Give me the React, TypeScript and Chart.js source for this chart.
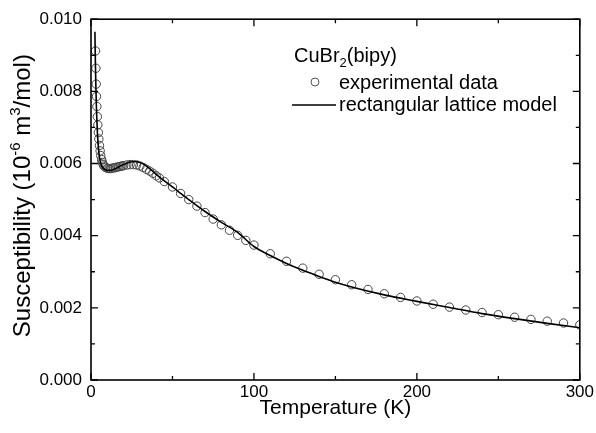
import React, { useEffect, useRef } from "react";
import { Chart, registerables } from "chart.js";

Chart.register(...registerables);

// Experimental data: temperature (K) and susceptibility
const expT = [
  2.8, 3.0, 3.2, 3.4, 3.6, 3.9, 4.2, 4.5, 4.8, 5.2, 5.6, 6.0, 6.5, 7.0, 7.5,
  8, 9, 10, 11, 12, 13, 14, 15, 16, 17, 18, 19, 20, 22, 24, 26, 28, 30, 32, 34,
  36, 38, 40, 42, 45, 50, 55, 60, 65, 70, 75, 80, 85, 90, 95, 100, 110, 120,
  130, 140, 150, 160, 170, 180, 190, 200, 210, 220, 230, 240, 250, 260, 270,
  280, 290, 300,
];
const expChi = [
  0.00912, 0.00864, 0.0082, 0.00786, 0.00758, 0.0073, 0.00707, 0.00686,
  0.00668, 0.0065, 0.00635, 0.00622, 0.00611, 0.00603, 0.00597, 0.00593,
  0.00589, 0.00587, 0.00586, 0.00586, 0.00587, 0.00588, 0.00589, 0.0059,
  0.00591, 0.00592, 0.00593, 0.00594, 0.00596, 0.00597, 0.00597, 0.00596,
  0.00593, 0.00589, 0.00584, 0.00579, 0.00573, 0.00566, 0.0056, 0.0055,
  0.00535, 0.00517, 0.005, 0.00482, 0.00464, 0.00446, 0.0043, 0.00415,
  0.00401, 0.00387, 0.00374, 0.0035, 0.00329, 0.0031, 0.00293, 0.00278,
  0.00264, 0.00251, 0.00239, 0.00229, 0.00219, 0.0021, 0.00202, 0.00194,
  0.00187, 0.00181, 0.00174, 0.00168, 0.00163, 0.00158, 0.00153,
];

// Rectangular lattice model curve
const modelT = [
  2.4, 2.6, 2.8, 3.0, 3.3, 3.6, 4.0, 4.5, 5, 5.5, 6, 7, 8, 10, 12, 14, 16, 18,
  20, 22, 24, 26, 28, 30, 32, 34, 36, 38, 40, 45, 50, 55, 60, 70, 80, 90, 100,
  110, 120, 130, 140, 150, 160, 180, 200, 220, 240, 260, 280, 300,
];
const modelChi = [
  0.00965, 0.00905, 0.00855, 0.00812, 0.0076, 0.0072, 0.0068, 0.00647,
  0.00625, 0.0061, 0.006, 0.0059, 0.00585, 0.00581, 0.00581, 0.00584,
  0.00588, 0.00593, 0.00597, 0.00601, 0.00604, 0.00605, 0.00605, 0.00603,
  0.00599, 0.00593, 0.00586, 0.00578, 0.0057, 0.00552, 0.00535, 0.00517,
  0.005, 0.00467, 0.00437, 0.00409, 0.0037, 0.00345, 0.00323, 0.00304,
  0.00287, 0.00271, 0.00258, 0.00236, 0.00218, 0.00201, 0.00184, 0.0017,
  0.00157, 0.00145,
];

const xMajor = [0, 100, 200, 300];
const xMinor = [50, 150, 250];
const yMajor = [0, 0.002, 0.004, 0.006, 0.008, 0.01];
const yMinor = [0.001, 0.003, 0.005, 0.007, 0.009];

const legendTitle = ["CuBr", "2", "(bipy)"];
const legendExp = "experimental data";
const legendModel = "rectangular lattice model";
const xTitle = "Temperature (K)";
const yTitleParts = [
  { t: "Susceptibility (10", sup: false },
  { t: "-6", sup: true },
  { t: " m", sup: false },
  { t: "3", sup: true },
  { t: "/mol)", sup: false },
];

const FONT = "Liberation Sans, Arial, sans-serif";

const framePlugin = {
  id: "frameTicks",
  afterDraw(chart: any) {
    const { ctx, chartArea } = chart;
    const xs = chart.scales.x;
    const ys = chart.scales.y;
    const { left, right, top, bottom } = chartArea;
    ctx.save();
    ctx.strokeStyle = "#000";
    ctx.lineWidth = 1.6;
    ctx.strokeRect(left, top, right - left, bottom - top);
    ctx.lineWidth = 1.3;
    const tick = (vals: number[], len: number) => {
      vals.forEach((v) => {
        const px = xs.getPixelForValue(v);
        ctx.beginPath();
        ctx.moveTo(px, bottom);
        ctx.lineTo(px, bottom - len);
        ctx.moveTo(px, top);
        ctx.lineTo(px, top + len);
        ctx.stroke();
      });
    };
    const ytick = (vals: number[], len: number) => {
      vals.forEach((v) => {
        const py = ys.getPixelForValue(v);
        ctx.beginPath();
        ctx.moveTo(left, py);
        ctx.lineTo(left + len, py);
        ctx.moveTo(right, py);
        ctx.lineTo(right - len, py);
        ctx.stroke();
      });
    };
    tick(xMajor, 7);
    tick(xMinor, 4);
    ytick(yMajor, 7);
    ytick(yMinor, 4);

    // Y axis title with superscripts
    const mainFont = `24px ${FONT}`;
    const supFont = `15px ${FONT}`;
    let total = 0;
    yTitleParts.forEach((p) => {
      ctx.font = p.sup ? supFont : mainFont;
      total += ctx.measureText(p.t).width;
    });
    ctx.translate(22, (top + bottom) / 2 - 4);
    ctx.rotate(-Math.PI / 2);
    ctx.fillStyle = "#000";
    ctx.textBaseline = "alphabetic";
    let x = -total / 2;
    yTitleParts.forEach((p) => {
      ctx.font = p.sup ? supFont : mainFont;
      ctx.fillText(p.t, x, p.sup ? -2 : 8);
      x += ctx.measureText(p.t).width;
    });
    ctx.restore();

    // Legend
    ctx.save();
    ctx.fillStyle = "#000";
    ctx.textBaseline = "middle";
    ctx.font = `20px ${FONT}`;
    let lx = 294;
    ctx.fillText(legendTitle[0], lx, 56);
    lx += ctx.measureText(legendTitle[0]).width;
    ctx.font = `13px ${FONT}`;
    ctx.fillText(legendTitle[1], lx, 63);
    lx += ctx.measureText(legendTitle[1]).width;
    ctx.font = `20px ${FONT}`;
    ctx.fillText(legendTitle[2], lx, 56);

    ctx.strokeStyle = "#555";
    ctx.lineWidth = 1;
    ctx.beginPath();
    ctx.arc(315, 82, 4, 0, Math.PI * 2);
    ctx.stroke();
    ctx.fillText(legendExp, 339, 83);

    ctx.strokeStyle = "#000";
    ctx.lineWidth = 1.5;
    ctx.beginPath();
    ctx.moveTo(292, 105);
    ctx.lineTo(336, 105);
    ctx.stroke();
    ctx.fillText(legendModel, 339, 105);
    ctx.restore();
  },
};

export default function App() {
  const ref = useRef<HTMLCanvasElement>(null);
  useEffect(() => {
    if (!ref.current) return;
    const chart = new Chart(ref.current, {
      type: "scatter",
      data: {
        datasets: [
          {
            label: legendExp,
            data: expT.map((t, i) => ({ x: t, y: expChi[i] })),
            showLine: false,
            pointStyle: "circle",
            pointRadius: 4.2,
            pointBorderWidth: 1,
            borderColor: "#444",
            backgroundColor: "rgba(0,0,0,0)",
            order: 2,
          },
          {
            label: legendModel,
            data: modelT.map((t, i) => ({ x: t, y: modelChi[i] })),
            showLine: true,
            pointRadius: 0,
            borderColor: "#000",
            borderWidth: 1.6,
            cubicInterpolationMode: "monotone",
            order: 1,
          },
        ],
      },
      options: {
        animation: false,
        responsive: false,
        maintainAspectRatio: false,
        layout: { padding: { top: 19, right: 16, left: 0, bottom: 0 } },
        plugins: {
          legend: { display: false },
          tooltip: { enabled: false },
        },
        scales: {
          x: {
            type: "linear",
            min: 0,
            max: 300,
            grid: { display: false, drawTicks: false },
            border: { display: false },
            ticks: {
              stepSize: 100,
              padding: 2,
              color: "#000",
              font: { family: FONT, size: 17 },
              maxRotation: 0,
            },
            title: {
              display: true,
              text: xTitle,
              color: "#000",
              font: { family: FONT, size: 21 },
              padding: { top: 0, bottom: 12 },
            },
            afterFit(scale: any) {
              scale.height = 53;
            },
          },
          y: {
            type: "linear",
            min: 0,
            max: 0.01,
            grid: { display: false, drawTicks: false },
            border: { display: false },
            ticks: {
              stepSize: 0.002,
              padding: 9,
              color: "#000",
              font: { family: FONT, size: 17 },
              callback: (v: any) => Number(v).toFixed(3),
            },
            afterFit(scale: any) {
              scale.width = 91;
            },
          },
        },
      },
      plugins: [framePlugin],
    });
    return () => chart.destroy();
  }, []);
  return (
    <div style={{ position: "fixed", left: 0, top: 0, width: 596, height: 433, background: "#fff" }}>
      <canvas ref={ref} width={596} height={433} style={{ width: 596, height: 433 }} />
    </div>
  );
}
